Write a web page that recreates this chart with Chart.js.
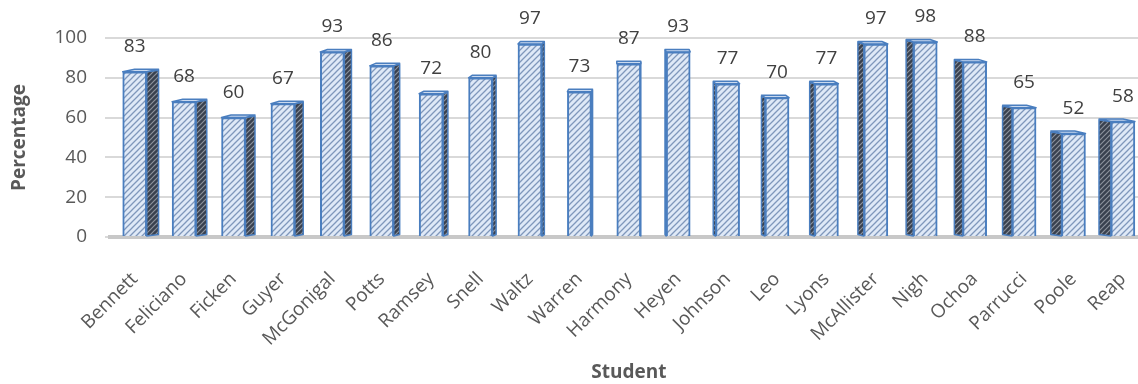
<!DOCTYPE html>
<html>
<head>
<meta charset="utf-8">
<script src="https://cdn.jsdelivr.net/npm/chart.js@4.4.0/dist/chart.umd.min.js"></script>
<style>
  html, body { margin: 0; padding: 0; background: #ffffff; overflow: hidden; }
  #wrap { width: 1162px; height: 384px; }
</style>
</head>
<body>
<div id="wrap"><canvas id="c" width="1162" height="384"></canvas></div>
<script>
// Scores per student
const students = ['Bennett', 'Feliciano', 'Ficken', 'Guyer', 'McGonigal', 'Potts', 'Ramsey',
  'Snell', 'Waltz', 'Warren', 'Harmony', 'Heyen', 'Johnson', 'Leo', 'Lyons', 'McAllister',
  'Nigh', 'Ochoa', 'Parrucci', 'Poole', 'Reap'];
const percentages = [83, 68, 60, 67, 93, 86, 72, 80, 97, 73, 87, 93, 77, 70, 77, 97, 98, 88, 65, 52, 58];
const yTicks = [0, 20, 40, 60, 80, 100];

const FONT = "'Open Sans', 'DejaVu Sans', sans-serif";
const TEXT = '#595959';
const EDGE = '#4a7ebf';

// Diagonal hatch fill as a repeating canvas pattern
function hatch(bg, fg, size, lw) {
  const c = document.createElement('canvas');
  c.width = c.height = size;
  const g = c.getContext('2d');
  g.fillStyle = bg;
  g.fillRect(0, 0, size, size);
  g.strokeStyle = fg;
  g.lineWidth = lw;
  g.beginPath();
  g.moveTo(0, size); g.lineTo(size, 0);
  g.moveTo(-1, 1); g.lineTo(1, -1);
  g.moveTo(size - 1, size + 1); g.lineTo(size + 1, size - 1);
  g.stroke();
  return g.createPattern(c, 'repeat');
}

const ctx = document.getElementById('c').getContext('2d');
const frontFill = hatch('#dfe9f7', '#7f97bb', 6, 1.3);
const sideFill = hatch('#39414f', '#8c929c', 5, 1.2);
const capFill = '#c9d9ef';

// Side and top faces of each column, derived from the bar elements
const depthFaces = {
  id: 'depthFaces',
  beforeDatasetsDraw(chart) {
    const meta = chart.getDatasetMeta(0);
    const area = chart.chartArea;
    const cx = (area.left + area.right) / 2;
    const c = chart.ctx;
    c.save();
    c.lineWidth = 1.5;
    c.strokeStyle = EDGE;
    c.lineJoin = 'round';
    meta.data.forEach((bar) => {
      const p = bar.getProps(['x', 'y', 'base', 'width'], true);
      const d = (cx - p.x) * 0.024;
      const t = 1.5;
      const xl = p.x - p.width / 2;
      const xr = p.x + p.width / 2;
      const edge = d >= 0 ? xr : xl;
      // side face
      c.beginPath();
      c.moveTo(edge, p.y);
      c.lineTo(edge + d, p.y - t);
      c.lineTo(edge + d, p.base - t);
      c.lineTo(edge, p.base);
      c.closePath();
      c.fillStyle = sideFill;
      c.fill();
      c.stroke();
      // top cap
      c.beginPath();
      c.moveTo(xl, p.y);
      c.lineTo(xl + d, p.y - t - 1);
      c.lineTo(xr + d, p.y - t - 1);
      c.lineTo(xr, p.y);
      c.closePath();
      c.fillStyle = capFill;
      c.fill();
      c.stroke();
    });
    c.restore();
  }
};

// Value labels above each column
const valueLabels = {
  id: 'valueLabels',
  afterDatasetsDraw(chart) {
    const meta = chart.getDatasetMeta(0);
    const values = chart.data.datasets[0].data;
    const c = chart.ctx;
    c.save();
    c.font = '19px ' + FONT;
    c.fillStyle = '#404040';
    c.textAlign = 'center';
    c.textBaseline = 'middle';
    meta.data.forEach((bar, i) => {
      const p = bar.getProps(['x', 'y'], true);
      c.fillText(String(values[i]), p.x, p.y - 25);
    });
    c.restore();
  }
};

new Chart(ctx, {
  type: 'bar',
  data: {
    labels: students,
    datasets: [{
      data: percentages,
      backgroundColor: frontFill,
      borderColor: EDGE,
      borderWidth: 2,
      barThickness: 24
    }]
  },
  options: {
    responsive: false,
    animation: false,
    layout: { padding: { top: 38, right: 0, bottom: 0, left: 0 } },
    plugins: {
      legend: { display: false },
      tooltip: { enabled: false }
    },
    scales: {
      x: {
        grid: { display: false },
        border: { display: true, color: '#c8c8c8', width: 4 },
        ticks: {
          color: TEXT,
          font: { family: FONT, size: 19 },
          minRotation: 45,
          maxRotation: 45,
          autoSkip: false,
          padding: 23
        },
        title: {
          display: true,
          text: 'Student',
          color: TEXT,
          font: { family: FONT, size: 19, weight: 'bold' },
          padding: { top: 4, bottom: 0 }
        },
        afterFit(scale) { scale.height = 147; }
      },
      y: {
        min: 0,
        max: 100,
        afterBuildTicks(scale) { scale.ticks = yTicks.map(v => ({ value: v })); },
        grid: { color: '#d9d9d9', lineWidth: 2, tickLength: 5, tickColor: '#d9d9d9' },
        border: { display: false },
        ticks: {
          color: TEXT,
          font: { family: FONT, size: 19 },
          padding: 18
        },
        title: {
          display: true,
          text: 'Percentage',
          color: TEXT,
          font: { family: FONT, size: 19, weight: 'bold' },
          padding: { top: 8, bottom: 0 }
        },
        afterFit(scale) { scale.width = 110; }
      }
    }
  },
  plugins: [depthFaces, valueLabels]
});
</script>
</body>
</html>
